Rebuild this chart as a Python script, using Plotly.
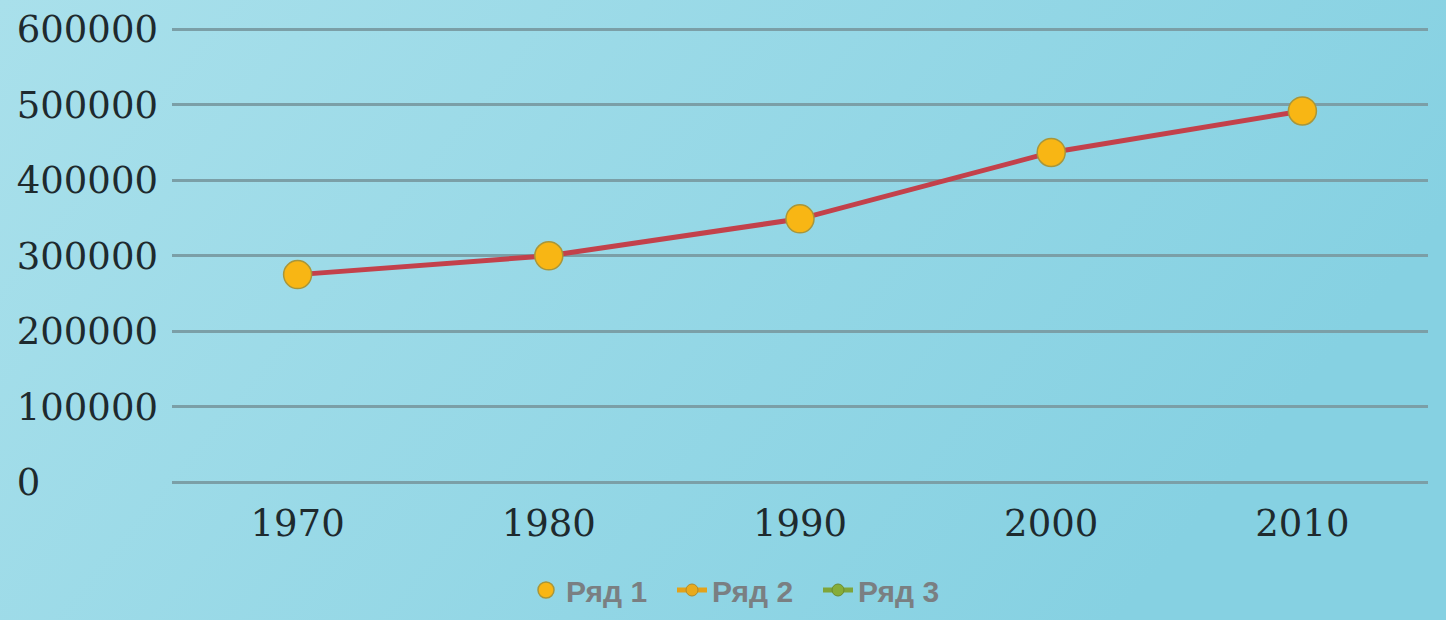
import base64
import plotly.graph_objects as go

years = ["1970", "1980", "1990", "2000", "2010"]
series1 = [275000, 300000, 349000, 437000, 492000]
series2 = [None, None, None, None, None]
series3 = [None, None, None, None, None]
names = ["Ряд 1", "Ряд 2", "Ряд 3"]
y_ticks = [0, 100000, 200000, 300000, 400000, 500000, 600000]
y_top = 606000

W, H = 1446, 620
ML, MR, MB = 172, 18, 138
PH = 452 * y_top / 600000
MT = H - MB - PH
PW = W - ML - MR

svg = f'''<svg xmlns="http://www.w3.org/2000/svg" width="{W}" height="{H}" viewBox="0 0 {W} {H}" preserveAspectRatio="none">
<defs><linearGradient id="g" x1="0" y1="0" x2="1" y2="0.35">
<stop offset="0" stop-color="#a9e0eb"/><stop offset="1" stop-color="#86d1e2"/></linearGradient></defs>
<rect width="{W}" height="{H}" fill="url(#g)"/></svg>'''
src = "data:image/svg+xml;base64," + base64.b64encode(svg.encode()).decode()

fig = go.Figure()
fig.add_trace(go.Scatter(
    x=years, y=series1, name=names[0], mode="lines+markers", showlegend=False,
    legendgroup="s1",
    line=dict(color="#c3414b", width=5),
    marker=dict(size=28, color="#f8b614", line=dict(color="#a8963a", width=1.5)),
))
fig.add_trace(go.Scatter(
    x=years, y=[None] * len(years), name=names[0], mode="markers", legendgroup="s1",
    marker=dict(size=28, color="#f8b614", line=dict(color="#a8963a", width=1.5)),
))
fig.add_trace(go.Scatter(
    x=years, y=series2, name=names[1], mode="lines+markers",
    line=dict(color="#e3a21a", width=5),
    marker=dict(size=12, color="#e9aa1c", line=dict(color="#b08a2a", width=1)),
))
fig.add_trace(go.Scatter(
    x=years, y=series3, name=names[2], mode="lines+markers",
    line=dict(color="#7fa53a", width=5),
    marker=dict(size=12, color="#86ad38", line=dict(color="#6a8a30", width=1)),
))

fig.update_layout(
    width=W, height=H,
    margin=dict(l=ML, r=MR, t=MT, b=MB, pad=0, autoexpand=False),
    paper_bgcolor="#98d9e7",
    plot_bgcolor="rgba(0,0,0,0)",
    images=[dict(source=src, xref="paper", yref="paper",
                 x=-ML / PW, y=1 + MT / PH, sizex=W / PW, sizey=H / PH,
                 xanchor="left", yanchor="top", sizing="stretch", layer="below")],
    showlegend=True,
    legend=dict(orientation="h", xref="container", yref="container",
                x=745 / W, y=1 - 590 / H,
                xanchor="center", yanchor="middle",
                entrywidth=101, entrywidthmode="pixels",
                font=dict(family="Liberation Sans", size=30, color="#7a7f82", weight="bold"),
                bgcolor="rgba(0,0,0,0)", itemwidth=30, tracegroupgap=0),
    font=dict(family="DejaVu Serif", size=37, color="#1e2a2e"),
)
fig.update_xaxes(type="category", range=[-0.5, 4.5], showgrid=False,
                 showline=False, ticks="", zeroline=False, ticklabelstandoff=16,
                 tickfont=dict(family="DejaVu Serif", size=37, color="#1e2a2e"))
fig.update_yaxes(range=[0, y_top], tickvals=y_ticks,
                 ticktext=[str(v).ljust(6, "\u2007") for v in y_ticks],
                 showgrid=True, gridcolor="#7b9fa7", gridwidth=3,
                 zeroline=True, zerolinecolor="#7b9fa7", zerolinewidth=3,
                 showline=False, ticks="", ticklabelstandoff=13,
                 tickfont=dict(family="DejaVu Serif", size=37, color="#1e2a2e"))

fig.write_html("out.html", config={"displayModeBar": False},
               post_script="document.body.style.margin='0';document.body.style.background='#98d9e7';")
